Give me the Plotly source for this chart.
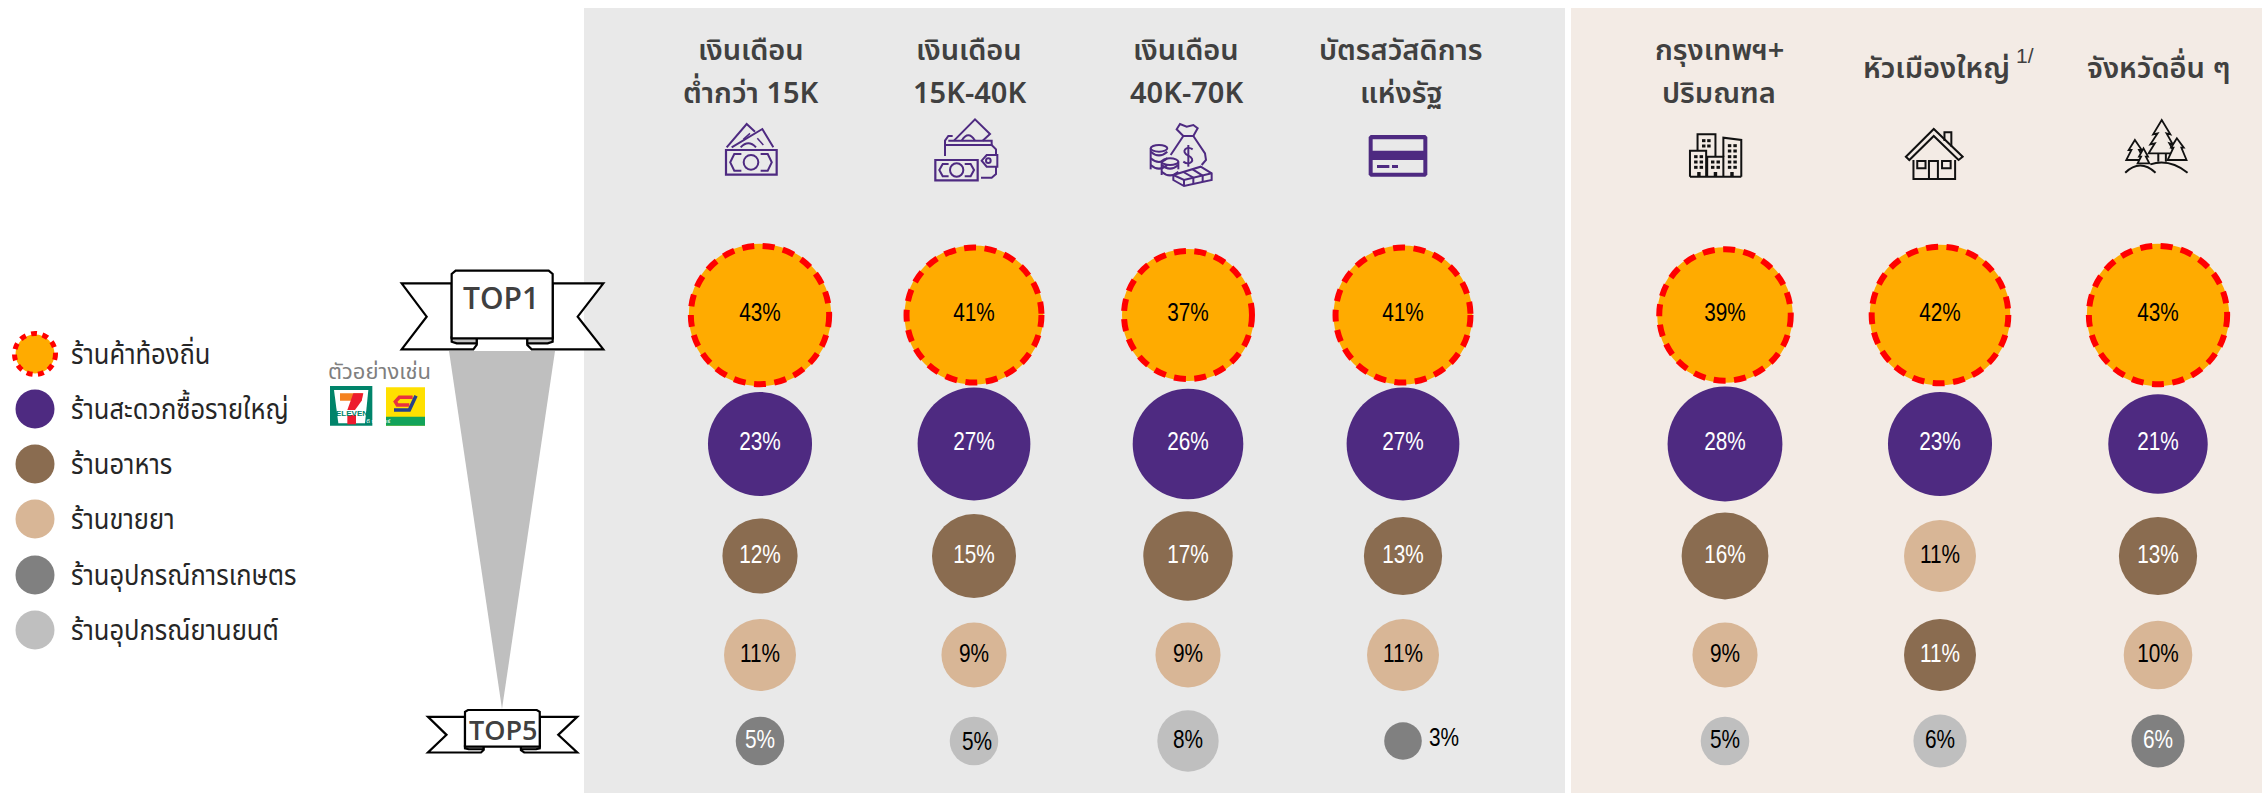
import math
import plotly.graph_objects as go

# ---------- data ----------
store_types = ["ร้านค้าท้องถิ่น", "ร้านสะดวกซื้อรายใหญ่", "ร้านอาหาร", "ร้านขายยา",
               "ร้านอุปกรณ์การเกษตร", "ร้านอุปกรณ์ยานยนต์"]
headers = [["เงินเดือน", "ต่ำกว่า 15K"], ["เงินเดือน", "15K-40K"], ["เงินเดือน", "40K-70K"],
           ["บัตรสวัสดิการ", "แห่งรัฐ"], ["กรุงเทพฯ+", "ปริมณฑล"], ["หัวเมืองใหญ่"], ["จังหวัดอื่น ๆ"]]
ranked_types = [
    [0, 1, 2, 3, 4], [0, 1, 2, 3, 5], [0, 1, 2, 3, 5], [0, 1, 2, 3, 4],
    [0, 1, 2, 3, 5], [0, 1, 3, 2, 5], [0, 1, 2, 3, 4],
]
share_salary_low = [43, 23, 12, 11, 5]
share_salary_mid = [41, 27, 15, 9, 5]
share_salary_high = [37, 26, 17, 9, 8]
share_welfare = [41, 27, 13, 11, 3]
share_bangkok = [39, 28, 16, 9, 5]
share_big_city = [42, 23, 11, 11, 6]
share_other = [43, 21, 13, 10, 6]
shares = [share_salary_low, share_salary_mid, share_salary_high, share_welfare,
          share_bangkok, share_big_city, share_other]

# ---------- layout constants (pixel axes) ----------
W, H = 2262, 793
COL_X = [760, 974, 1188, 1403, 1725, 1940, 2158]
HEAD_X = [751, 969, 1186, 1401, 1719, 1936, 2159]
ROW_Y = [315, 444, 556, 655, 741]
K = 21.7
COLORS = ["#ffab00", "#4e2a81", "#8a6c50", "#d8b696", "#808080", "#bfbfbf"]
TEXTC = ["#000000", "#ffffff", "#ffffff", "#000000", "#ffffff", "#000000"]
PUR = "#4e2a81"
NUM_FONT = "Liberation Sans, Arial, sans-serif"
TH_FONT = "Noto Sans Thai, Noto Sans, sans-serif"
shapes, annots = [], []


def P(ox, oy, pts, close=False, sx=3.0, sy=3.0):
    s = "M" + " L".join(f"{ox + x / sx:.2f},{oy + y / sy:.2f}" for x, y in pts)
    return s + (" Z" if close else "")


def C(ox, oy, cx, cy, rx, ry=None, sx=3.0, sy=3.0):
    ry = rx if ry is None else ry
    cx, cy, rx, ry = ox + cx / sx, oy + cy / sy, rx / sx, ry / sy
    k = 0.5523
    return (f"M{cx - rx},{cy} C{cx - rx},{cy - k * ry} {cx - k * rx},{cy - ry} {cx},{cy - ry} "
            f"C{cx + k * rx},{cy - ry} {cx + rx},{cy - k * ry} {cx + rx},{cy} "
            f"C{cx + rx},{cy + k * ry} {cx + k * rx},{cy + ry} {cx},{cy + ry} "
            f"C{cx - k * rx},{cy + ry} {cx - rx},{cy + k * ry} {cx - rx},{cy} Z")


def Q(ox, oy, a, b, c, sx=3.0, sy=3.0):
    return (f"M{ox + a[0] / sx:.2f},{oy + a[1] / sy:.2f} Q{ox + b[0] / sx:.2f},{oy + b[1] / sy:.2f} "
            f"{ox + c[0] / sx:.2f},{oy + c[1] / sy:.2f}")


def add(path, color=None, w=2.0, fill=None, layer="below"):
    shapes.append(dict(type="path", path=path, xref="x", yref="y", layer=layer,
                       line=dict(color=color or "rgba(0,0,0,0)", width=w if color else 0),
                       fillcolor=fill or "rgba(0,0,0,0)"))


def rect(x0, y0, x1, y1, fill, layer="below"):
    shapes.append(dict(type="rect", x0=x0, y0=y0, x1=x1, y1=y1, xref="x", yref="y",
                       line=dict(width=0), fillcolor=fill, layer=layer))


def text(x, y, s, size, color, font=TH_FONT, weight=None, anchor="center"):
    f = dict(size=size, color=color, family=font)
    if weight:
        f["weight"] = weight
    annots.append(dict(x=x, y=y, xref="x", yref="y", text=s, showarrow=False, font=f,
                       xanchor=anchor, yanchor="middle"))


# ---------- panels ----------
rect(584, 8, 1565, H, "#e9e9e9")
rect(1571, 8, W, H, "#f3ebe5")

# ---------- headers ----------
for hx, lines in zip(HEAD_X, headers):
    if len(lines) == 2:
        text(hx, 51, lines[0], 29, "#404040", weight=600)
        text(hx, 94, lines[1], 29, "#404040", weight=600)
    else:
        text(hx, 69, lines[0], 29, "#404040", weight=600)
text(2025, 55, "1/", 21, "#404040", font=NUM_FONT)

# ---------- funnel ----------
add(P(0, 0, [(449, 351), (555, 351), (502, 709)], True, 1, 1), fill="#bfbfbf")


# ---------- ribbons ----------
def ribbon(x_off, y_off, s_x, s_y):
    ox, oy = x_off, y_off
    kw = dict(sx=3 / s_x, sy=3 / s_y)
    lw = 2.2
    add(P(ox, oy, [(170, 70), (20, 70), (95, 170), (20, 268), (235, 268), (245, 255), (245, 232), (170, 232)], True, **kw),
        "#000000", lw, "#ffffff", "above")
    add(P(ox, oy, [(473, 70), (625, 70), (548, 170), (625, 268), (410, 268), (397, 255), (397, 232), (473, 232)], True, **kw),
        "#000000", lw, "#ffffff", "above")
    add(P(ox, oy, [(170, 232), (170, 245), (185, 250), (245, 250), (245, 232)], True, **kw), "#000000", lw, "#bfbfbf", "above")
    add(P(ox, oy, [(473, 232), (473, 245), (458, 250), (397, 250), (397, 232)], True, **kw), "#000000", lw, "#bfbfbf", "above")
    add(P(ox, oy, [(182, 32), (461, 32), (473, 42), (473, 235), (170, 235), (170, 42)], True, **kw), "#000000", lw, "#ffffff", "above")


ribbon(395, 260, 1, 1)
ribbon(428 - 20 * 0.74 / 3, 710 - 32 * 0.54 / 3, 0.74, 0.54)
text(501, 297, "TOP1", 30, "#404040", font="Open Sans, sans-serif", weight=600)
text(503, 729, "TOP5", 27, "#404040", font="Open Sans, sans-serif", weight=600)

# ---------- icons: purple ----------
def money(ox, oy, x0, y0, x1, y1, cx, cy, r):
    add(P(ox, oy, [(x0, y0), (x1, y0), (x1, y1), (x0, y1)], True), PUR, 2.2)
    add(C(ox, oy, cx, cy, r), PUR, 2)
    d = (x1 - x0)
    add(P(ox, oy, [(cx - d * .19, y0 + 12), (cx - d * .33, y0 + 12), (cx - d * .41, cy), (cx - d * .33, y1 - 12), (cx - d * .19, y1 - 12)]), PUR, 2)
    add(P(ox, oy, [(cx + d * .19, y0 + 12), (cx + d * .33, y0 + 12), (cx + d * .41, cy), (cx + d * .33, y1 - 12), (cx + d * .19, y1 - 12)]), PUR, 2)


money(700, 110, 78, 120, 230, 194, 153, 157, 22)
add(P(700, 110, [(80, 112), (140, 42), (165, 65)]), PUR, 2)
add(P(700, 110, [(95, 112), (187, 57), (220, 112)]), PUR, 2)
add(P(700, 110, [(130, 88), (150, 70)]), PUR, 1.5)
add(P(700, 110, [(172, 85), (190, 105)]), PUR, 1.5)
add(Q(700, 110, (122, 112), (145, 88), (168, 112)), PUR, 2)

money(700, 110, 706, 150, 833, 211, 770, 180, 20)
add(P(700, 110, [(735, 138), (735, 92), (745, 78), (758, 78)]), PUR, 2)
add(P(700, 110, [(762, 92), (825, 28), (870, 72), (848, 92)]), PUR, 2)
add(P(700, 110, [(745, 92), (875, 92), (875, 105)]), PUR, 2)
add(P(700, 110, [(737, 105), (875, 105), (888, 118), (888, 135)]), PUR, 2)
add(P(700, 110, [(888, 170), (888, 192), (875, 203), (843, 203)]), PUR, 2)
add(P(700, 110, [(892, 135), (860, 135), (845, 152), (860, 170), (892, 170)], True), PUR, 2)
add(C(700, 110, 865, 152, 7), PUR, 2)
add(Q(700, 110, (785, 92), (805, 60), (825, 92)), PUR, 2)

O3 = (1130, 110)
add(P(*O3, [(160, 78), (140, 58), (150, 42), (170, 50), (190, 45), (203, 55), (190, 78)], True), PUR, 2)
add(P(*O3, [(160, 78), (122, 135)]), PUR, 2)
add(P(*O3, [(190, 78), (225, 130), (228, 150), (215, 165)]), PUR, 2)
add(f"M{1130 + 188 / 3},{110 + 118 / 3} C{1130 + 170 / 3},{110 + 105 / 3} {1130 + 150 / 3},{110 + 125 / 3} {1130 + 175 / 3},{110 + 137 / 3} "
    f"C{1130 + 200 / 3},{110 + 148 / 3} {1130 + 180 / 3},{110 + 170 / 3} {1130 + 160 / 3},{110 + 155 / 3}", PUR, 2)
add(P(*O3, [(175, 105), (175, 170)]), PUR, 2)
add(C(*O3, 87, 115, 25, 10), PUR, 2)
for yy in (135, 155, 175):
    add(Q(*O3, (62, yy - 10), (87, yy + 12), (112, yy - 10)), PUR, 2)
add(P(*O3, [(62, 115), (62, 178)]), PUR, 2)
add(C(*O3, 120, 155, 25, 10), PUR, 2)
for yy in (175, 195):
    add(Q(*O3, (95, yy - 10), (120, yy + 12), (145, yy - 10)), PUR, 2)
add(P(*O3, [(95, 155), (95, 195)]), PUR, 2)
add(P(*O3, [(145, 155), (145, 178)]), PUR, 2)
add(P(*O3, [(130, 195), (212, 170), (245, 190), (245, 210), (162, 228), (130, 210)], True), PUR, 2, "#e9e9e9")
add(P(*O3, [(130, 195), (162, 210), (245, 190)]), PUR, 2)
add(P(*O3, [(162, 210), (162, 228)]), PUR, 2)
add(P(*O3, [(190, 203), (190, 222)]), PUR, 2)
add(P(*O3, [(218, 197), (218, 216)]), PUR, 2)
add(P(*O3, [(160, 186), (190, 203)]), PUR, 2)
add(P(*O3, [(188, 178), (218, 197)]), PUR, 2)

add(P(*O3, [(722, 75), (886, 75), (892, 81), (892, 194), (886, 200), (722, 200), (716, 194), (716, 81)], True), fill=PUR)
add(P(*O3, [(728, 88), (880, 88), (880, 122), (728, 122)], True), fill="#e9e9e9")
add(P(*O3, [(728, 150), (880, 150), (880, 188), (728, 188)], True), fill="#e9e9e9")
add(P(*O3, [(741, 165), (778, 165), (778, 174), (741, 174)], True), fill=PUR)
add(P(*O3, [(786, 165), (804, 165), (804, 174), (786, 174)], True), fill=PUR)

# ---------- icons: black ----------
O5 = dict(sx=2.904, sy=3.0)
ox5, oy5 = 1670, 105
BK = "#111111"
for poly in ([(80, 137), (80, 88), (132, 88), (132, 155)],
             [(58, 215), (58, 137), (105, 137), (105, 215)],
             [(108, 215), (108, 155), (155, 155), (155, 215)],
             [(155, 155), (155, 98), (207, 105), (207, 215)],
             [(58, 215), (207, 215)]):
    add(P(ox5, oy5, poly, **O5), BK, 2)
def win(cols, rows, w=10, h=9, col=BK):
    for cx in cols:
        for cy in rows:
            add(P(ox5, oy5, [(cx - w / 2, cy - h / 2), (cx + w / 2, cy - h / 2), (cx + w / 2, cy + h / 2), (cx - w / 2, cy + h / 2)], True, **O5), fill=col)
win([98, 113], [107, 123])
win([75, 91], [155, 171, 187])
win([124, 140], [171, 187])
win([173, 189], [122, 138, 155, 171, 187])
win([84, 132, 180], [208], 10, 14)
add(P(ox5, oy5, [(685, 155), (766, 72), (850, 155), (838, 165), (766, 93), (695, 165)], True, **O5), BK, 2)
add(P(ox5, oy5, [(797, 108), (797, 82), (817, 82), (817, 125)], **O5), BK, 2)
add(P(ox5, oy5, [(707, 165), (707, 222), (828, 222), (828, 165)], **O5), BK, 2)
add(P(ox5, oy5, [(752, 222), (752, 168), (778, 168), (778, 222)], **O5), BK, 2)
add(P(ox5, oy5, [(718, 168), (742, 168), (742, 190), (718, 190)], True, **O5), BK, 2)
add(P(ox5, oy5, [(790, 168), (815, 168), (815, 190), (790, 190)], True, **O5), BK, 2)
add(P(ox5, oy5, [(1428, 45), (1403, 88), (1416, 85), (1395, 118), (1408, 115), (1390, 145), (1466, 145), (1450, 115), (1460, 118), (1442, 85), (1453, 88)], True, **O5), BK, 1.8)
add(P(ox5, oy5, [(1472, 100), (1455, 128), (1462, 128), (1445, 165), (1500, 165), (1485, 128), (1492, 128)], True, **O5), BK, 1.8, "#f3ebe5")
add(P(ox5, oy5, [(1350, 105), (1332, 135), (1340, 135), (1325, 165), (1378, 165), (1362, 135), (1370, 135)], True, **O5), BK, 1.8)
add(P(ox5, oy5, [(1375, 130), (1362, 155), (1368, 155), (1358, 175), (1392, 175), (1382, 155), (1388, 155)], True, **O5), BK, 1.8, "#f3ebe5")
add(P(ox5, oy5, [(1418, 145), (1418, 170)], **O5), BK, 2)
add(P(ox5, oy5, [(1440, 145), (1440, 170)], **O5), BK, 2)
add(Q(ox5, oy5, (1322, 203), (1365, 160), (1410, 203), **O5), BK, 2)
add(Q(ox5, oy5, (1395, 178), (1450, 160), (1503, 203), **O5), BK, 2)

# ---------- example logos ----------
text(379, 372, "ตัวอย่างเช่น", 22, "#7f7f7f")
O8 = (320, 355)
add(P(*O8, [(30, 93), (157, 93), (157, 212), (30, 212)], True), fill="#00846a")
add(P(*O8, [(42, 105), (145, 105), (135, 205), (55, 205)], True), fill="#ffffff")
add(P(*O8, [(60, 115), (128, 115), (125, 137), (60, 137)], True), fill="#f58220")
add(P(*O8, [(100, 115), (130, 115), (125, 137), (105, 165), (82, 165)], True), fill="#ed1c2e")
add(P(*O8, [(82, 180), (108, 180), (108, 208), (82, 208)], True), fill="#ed1c2e")
text(351.5, 413, "ELEVEN", 8, "#00846a", font=NUM_FONT, weight=700)
add(P(*O8, [(198, 97), (315, 97), (315, 212), (198, 212)], True), fill="#ffe000")
add(P(*O8, [(198, 185), (315, 185), (315, 212), (198, 212)], True), fill="#12a35a")
add(P(*O8, [(278, 127), (238, 127), (226, 140), (232, 150), (268, 150)]), "#e8313f", 3.5)
add(P(*O8, [(288, 122), (268, 165), (222, 165)]), "#27408b", 3.5)
text(378.5, 421, "ดี ซุปเปอร์", 6, "#ffffff")

# ---------- dashed rings drawn from the same values ----------
def ring(cx, cy, d, wd=6, dash="12px,8.5px"):
    r = d / 2 - 2
    shapes.append(dict(type="circle", x0=cx - r, x1=cx + r, y0=cy - r, y1=cy + r, xref="x", yref="y",
                       layer="above", line=dict(color="#ff0000", width=wd, dash=dash),
                       fillcolor="rgba(0,0,0,0)"))

# ---------- bubbles ----------
LABEL_DY = [-1, -1, 0, 0, 0]
xs, ys, vals, cols, lx, ly, lt, lc = [], [], [], [], [], [], [], []
for cx, vs, ts in zip(COL_X, shares, ranked_types):
    for row, (y, v, t) in enumerate(zip(ROW_Y, vs, ts)):
        xs.append(cx); ys.append(y); vals.append(v); cols.append(COLORS[t])
        dx, dy, tc = 0, LABEL_DY[row], TEXTC[t]
        if v == 3:
            dx, tc = 41, "#000000"
            dy = -2
        if v == 5 and t == 5 and cx == 974:
            dx, dy = 3, 2
        lx.append(cx + dx); ly.append(y + dy); lt.append(f"{v}%"); lc.append(tc)
        if t == 0:
            ring(cx, y, K * math.sqrt(v))

fig = go.Figure()
fig.add_trace(go.Scatter(x=xs, y=ys, mode="markers", hoverinfo="skip",
                         marker=dict(size=vals, sizemode="area", sizeref=2 / K ** 2, color=cols, opacity=1, line=dict(width=0))))
fig.add_trace(go.Scatter(x=lx, y=ly, mode="text", text=lt, hoverinfo="skip", textposition="middle center",
                         textfont=dict(size=26, color=lc, family=NUM_FONT)))

# ---------- legend ----------
LEG_Y = [354, 409, 464, 519, 575, 630]
LEG_TEXT_Y = [y + 3 for y in LEG_Y]
fig.add_trace(go.Scatter(x=[35] * 6, y=LEG_Y, mode="markers", hoverinfo="skip",
                         marker=dict(size=39, color=COLORS, opacity=1, line=dict(width=0))))
fig.add_trace(go.Scatter(x=[71] * 6, y=LEG_TEXT_Y, mode="text", text=store_types, hoverinfo="skip",
                         textposition="middle right", textfont=dict(size=29, color="#262626", family=TH_FONT)))
ring(35, 354, 45, 5, "6px,5.5px")

fig.update_layout(width=W, height=H, margin=dict(l=0, r=0, t=0, b=0), showlegend=False,
                  paper_bgcolor="#ffffff", plot_bgcolor="rgba(0,0,0,0)", shapes=shapes, annotations=annots,
                  xaxis=dict(range=[0, W], visible=False, fixedrange=True),
                  yaxis=dict(range=[H, 0], visible=False, fixedrange=True))

# body margin off; percent and legend labels are set in a condensed width, as in the reference
POST = """
document.documentElement.style.margin='0';document.body.style.margin='0';
document.querySelectorAll('.textpoint text').forEach(function(t){
  var f=parseFloat(t.style.fontSize)>=28?0.88:0.8;
  var w=t.getComputedTextLength();
  t.setAttribute('textLength',(w*f).toFixed(1));
  t.setAttribute('lengthAdjust','spacingAndGlyphs');
});
"""
fig.write_html("out.html", config=dict(displayModeBar=False), post_script=POST)
